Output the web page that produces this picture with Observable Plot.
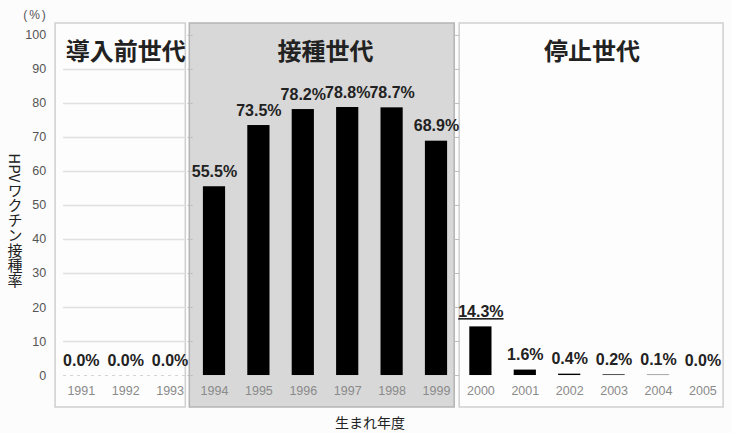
<!DOCTYPE html>
<html>
<head>
<meta charset="utf-8">
<script src="https://cdn.jsdelivr.net/npm/d3@7"></script>
<script src="https://cdn.jsdelivr.net/npm/@observablehq/plot@0.6"></script>
<style>
  html, body { margin: 0; padding: 0; background: #fcfcfc; }
</style>
</head>
<body>
<div id="chart"></div>
<script>
// HPV vaccination rate by birth year (%)
const years = [1991, 1992, 1993, 1994, 1995, 1996, 1997, 1998, 1999, 2000, 2001, 2002, 2003, 2004, 2005];
const rates = [0.0, 0.0, 0.0, 55.5, 73.5, 78.2, 78.8, 78.7, 68.9, 14.3, 1.6, 0.4, 0.2, 0.1, 0.0];

// Generation groups
const generations = ["導入前世代", "接種世代", "停止世代"];
const generationFirst = [1991, 1994, 2000];
const generationLast = [1993, 1999, 2005];

const yTicks = [0, 10, 20, 30, 40, 50, 60, 70, 80, 90, 100];
const unitLabel = "(%)";
const yLabel = "HPVワクチン接種率";
const xLabel = "生まれ年度";
const highlightYear = 2000;

const data = years.map((year, i) => ({year, value: rates[i]}));
const panels = generations.map((name, i) => ({name, first: generationFirst[i], last: generationLast[i]}));

const cjk = "'Noto Sans CJK JP', 'Noto Sans', sans-serif";
const latin = "'Liberation Sans', Arial, sans-serif";

// panel box styling
const panelFill = ["#fdfdfd", "#d8d8d8", "#fdfdfd"];
const panelStroke = ["#cfcfcf", "#b4b4b4", "#cfcfcf"];
const panelInsetLeft = [-3.5, -2.5, 1];
const panelInsetRight = [6.5, 4, 1.5];

const fmt = v => v.toFixed(1) + "%";

const chart = Plot.plot({
  width: 732,
  height: 433,
  marginTop: 23,
  marginBottom: 26,
  marginLeft: 58.6,
  marginRight: 7.4,
  x: {domain: [1990.5, 2005.5], axis: null},
  y: {domain: [-9.4, 103.5]},
  style: {background: "#fcfcfc", fontFamily: latin, fontSize: "12px", overflow: "visible"},
  marks: [
    // generation panels
    ...panels.map((p, i) => Plot.rect([p], {
      x1: d => d.first - 0.5,
      x2: d => d.last + 0.5,
      y1: -9.4,
      y2: 103.5,
      fill: panelFill[i],
      stroke: panelStroke[i],
      strokeWidth: 1.5,
      insetLeft: panelInsetLeft[i],
      insetRight: panelInsetRight[i]
    })),
    // gridlines inside the first panel
    Plot.ruleY(yTicks.filter(t => t > 0 && t < 100), {
      x1: generationFirst[0] - 0.4,
      x2: generationLast[0] + 0.35,
      stroke: "#e0e0e0",
      strokeWidth: 1.5
    }),
    Plot.ruleY([0], {
      x1: generationFirst[0] - 0.4,
      x2: generationLast[0] + 0.35,
      stroke: "#d4d4d4",
      strokeDasharray: "3,4"
    }),
    // small ticks on the left edges of the later panels
    ...panels.slice(1).map(p => Plot.ruleY(yTicks, {
      x1: p.first - 0.6,
      x2: p.first - 0.48,
      stroke: "#bdbdbd"
    })),
    Plot.axisY({
      ticks: yTicks,
      tickSize: 0,
      tickPadding: 13,
      label: null,
      fill: "#555",
      fontSize: 12.5
    }),
    // bars
    Plot.rectY(data, {
      x1: d => d.year - 0.25,
      x2: d => d.year + 0.25,
      y: "value",
      fill: "#000"
    }),
    // value labels
    Plot.text(data, {
      x: "year",
      y: "value",
      text: d => fmt(d.value),
      dy: -15,
      fontSize: 16,
      fontWeight: "bold",
      fill: "#222"
    }),
    // year labels
    Plot.text(years, {
      x: d => d,
      y: 0,
      dy: 15,
      text: d => String(d),
      fontSize: 12.5,
      fill: "#8a8a8a"
    }),
    // panel titles
    Plot.text(panels, {
      x: d => (d.first + d.last) / 2,
      frameAnchor: "top",
      lineAnchor: "middle",
      dy: 29,
      text: "name",
      fontFamily: cjk,
      fontSize: 24,
      fontWeight: "bold",
      fill: "#222"
    }),
    Plot.text([unitLabel], {
      frameAnchor: "top-left",
      textAnchor: "middle",
      lineAnchor: "middle",
      dx: -23.6,
      dy: -8,
      text: d => d,
      fontSize: 12,
      fill: "#555"
    }),
    Plot.text([yLabel], {
      frameAnchor: "left",
      textAnchor: "middle",
      dx: -44,
      text: d => d,
      fontFamily: cjk,
      fontSize: 15,
      fill: "#222"
    }),
    Plot.text([xLabel], {
      frameAnchor: "bottom",
      lineAnchor: "middle",
      dx: -22,
      dy: 16,
      text: d => d,
      fontFamily: cjk,
      fontSize: 14,
      fill: "#222"
    })
  ]
});

// vertical writing for the y-axis label, spacing for the unit, underline for the highlighted value
d3.select(chart).selectAll("text")
  .filter(function () { return this.textContent === yLabel; })
  .style("writing-mode", "vertical-rl")
  .attr("dy", null);
d3.select(chart).selectAll("text")
  .filter(function () { return this.textContent === unitLabel; })
  .style("letter-spacing", "2px");
const hl = fmt(rates[years.indexOf(highlightYear)]);
d3.select(chart).selectAll("text")
  .filter(function () { return this.textContent === hl; })
  .style("text-decoration", "underline");

document.getElementById("chart").appendChild(chart);
</script>
</body>
</html>
